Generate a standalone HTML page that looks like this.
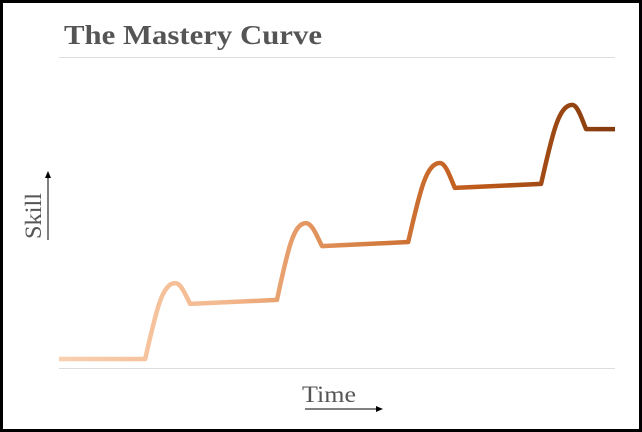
<!DOCTYPE html>
<html><head><meta charset="utf-8"><style>
html,body{margin:0;padding:0;background:#fff;}
svg{display:block;}
</style></head><body>
<svg width="642" height="432" viewBox="0 0 642 432">
<defs>
<linearGradient id="g" x1="59" y1="0" x2="615" y2="0" gradientUnits="userSpaceOnUse">
<stop offset="0" stop-color="#f9cfae"/>
<stop offset="0.3" stop-color="#f3b88e"/>
<stop offset="0.5" stop-color="#dc8a50"/>
<stop offset="0.75" stop-color="#bf5a1a"/>
<stop offset="1" stop-color="#823a0e"/>
</linearGradient>
<marker id="ah" markerWidth="8" markerHeight="8" refX="6" refY="3" orient="auto"><path d="M0,0 L7,3 L0,6 Z" fill="#000"/></marker>
</defs>
<rect x="1.5" y="1.5" width="639" height="429" fill="#fff" stroke="#000" stroke-width="3"/>
<text x="64" y="44" textLength="258" lengthAdjust="spacingAndGlyphs" font-family="Liberation Serif, serif" font-weight="bold" font-size="27" fill="#555">The Mastery Curve</text>
<line x1="59" y1="57.5" x2="615" y2="57.5" stroke="#ddd" stroke-width="1"/>
<line x1="59" y1="368.5" x2="615" y2="368.5" stroke="#ddd" stroke-width="1"/>
<text transform="translate(41,216) rotate(-90)" text-anchor="middle" textLength="46" lengthAdjust="spacingAndGlyphs" font-family="Liberation Serif, serif" font-size="23" fill="#555">Skill</text>
<line x1="48" y1="240" x2="48" y2="172" stroke="#000" stroke-width="1" marker-end="url(#ah)"/>
<text x="329" y="402" text-anchor="middle" textLength="54" lengthAdjust="spacingAndGlyphs" font-family="Liberation Serif, serif" font-size="23" fill="#555">Time</text>
<line x1="305" y1="409" x2="382" y2="409" stroke="#000" stroke-width="1" marker-end="url(#ah)"/>
<path id="curve" fill="none" stroke="url(#g)" stroke-width="4.5" stroke-linejoin="round"/>
</svg>
<script>
// step data: plateau start x, peak x, dip x (time units 0-100); levels (skill units 0-100)
const stepStartX = [15.5, 39.2, 62.8, 86.7];
const peakX = [20.9, 44.4, 68.5, 92.3];
const dipX = [23.6, 47.3, 71.2, 94.8];
const plateauStartY = [2.9, 21.9, 40.5, 59.2];
const peakY = [27.3, 46.6, 65.9, 84.6];
const dipY = [20.6, 39.2, 57.9, 76.8];
const endX = 100;
const endY = 76.8;
const startX = 0;
const sx = v => 59 + v * 5.56;
const sy = v => 368 - v * 3.11;
let d = `M${sx(startX)},${sy(plateauStartY[0])}`;
for (let i = 0; i < stepStartX.length; i++) {
  const x0 = sx(stepStartX[i]), y0 = sy(plateauStartY[i]);
  const xp = sx(peakX[i]), yp = sy(peakY[i]);
  const xd = sx(dipX[i]), yd = sy(dipY[i]);
  d += ` L${x0},${y0}`;
  d += ` C${x0 + (xp - x0) * 0.35},${y0 - (y0 - yp) * 0.6} ${xp - (xp - x0) * 0.45},${yp} ${xp},${yp}`;
  d += ` C${xp + (xd - xp) * 0.4},${yp} ${xd - (xd - xp) * 0.3},${yd - (yd - yp) * 0.4} ${xd},${yd}`;
  if (i + 1 >= stepStartX.length) d += ` L${sx(endX)},${sy(endY)}`;
}
const c = document.getElementById('curve');
c.setAttribute('d', d);
</script>
</body></html>
